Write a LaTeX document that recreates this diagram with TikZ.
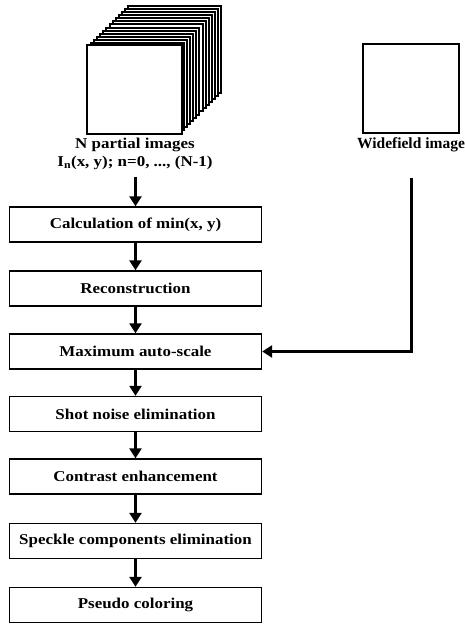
\documentclass[tikz,border=0pt]{standalone}
\usepackage{fontspec}
\setmainfont{Liberation Serif}
\newfontfamily\boxfont[FakeStretch=1.13]{Liberation Serif}
\usetikzlibrary{arrows.meta}
\begin{document}
\begin{tikzpicture}[x=1pt,y=-1pt,
  box/.style={draw, line width=1.4pt, minimum width=252pt, minimum height=35pt, inner sep=0pt,
    font=\boxfont\bfseries\fontsize{15}{17}\selectfont},
  lbl/.style={font=\boxfont\bfseries\fontsize{15}{18}\selectfont, align=center, inner sep=0pt},
  wlbl/.style={font=\bfseries\fontsize{15.5}{18}\selectfont, align=center, inner sep=0pt},
  flow/.style={line width=3pt, -{Triangle[width=12pt,length=10pt]}},
  sheet/.style={draw, fill=white, line width=2pt}]
\useasboundingbox (0,0) rectangle (465,624);
% stack of partial images
\foreach \i in {13,12,...,1}{
  \draw[sheet] (88+3.08*\i,46-3.08*\i) rectangle ++(93,87);
}
\node[sheet, minimum width=95pt, minimum height=89pt, inner sep=0pt] (stack) at (134.5,89.5) {};
\node[lbl] (stxt) at (135,154) {N partial images\\I\textsubscript{n}(x, y); n=0, ..., (N-1)};
% widefield
\node[draw, line width=1.3pt, minimum width=96pt, minimum height=89pt, inner sep=0pt] (wf) at (411,88.5) {};
\node[wlbl] (wtxt) at (411,145) {Widefield image};
\coordinate (wstart) at (411,178);
% boxes
\node[box] (b1) at (135.5,224.5) {Calculation of min(x, y)};
\node[box] (b2) at (135.5,288.5) {Reconstruction};
\node[box] (b3) at (135.5,351.5) {Maximum auto-scale};
\node[box] (b4) at (135.5,414) {Shot noise elimination};
\node[box] (b5) at (135.5,476.5) {Contrast enhancement};
\node[box] (b6) at (135.5,541) {Speckle components elimination};
\node[box] (b7) at (135.5,605) {Pseudo coloring};
% arrows
\coordinate (sstart) at (135.5,177);
\draw[flow] (sstart) -- (b1.north);
\draw[flow] (b1) -- (b2);
\draw[flow] (b2) -- (b3);
\draw[flow] (b3) -- (b4);
\draw[flow] (b4) -- (b5);
\draw[flow] (b5) -- (b6);
\draw[flow] (b6) -- (b7);
\draw[flow] (wstart) |- (b3.east);
\end{tikzpicture}
\end{document}
